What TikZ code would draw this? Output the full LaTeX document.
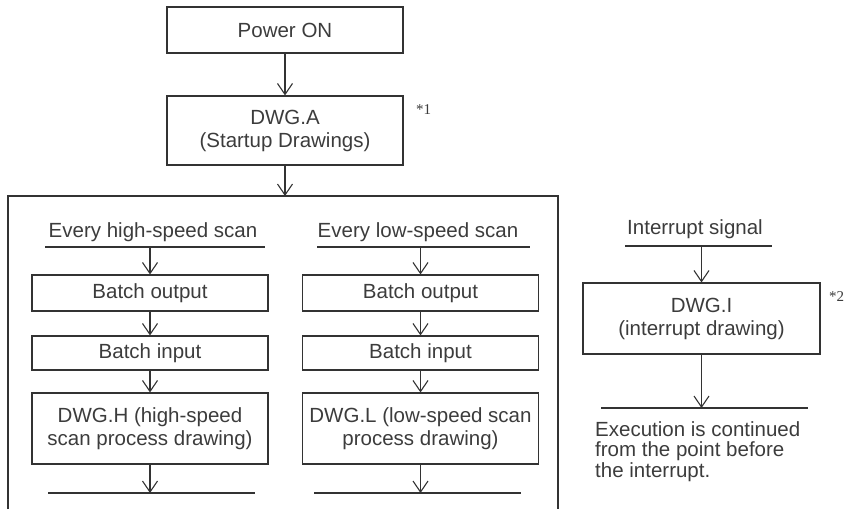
\documentclass[tikz,border=0pt]{standalone}
\usepackage{fontspec}
\setmainfont{Liberation Sans}
\newfontfamily\notefont{Liberation Serif}
\usetikzlibrary{arrows.meta}
\definecolor{ink}{HTML}{333333}
\definecolor{txt}{HTML}{3C3C3C}
\begin{document}
\begin{tikzpicture}[x=1pt,y=-1pt,
  box/.style={draw=ink, line width=1.1pt, minimum width=236pt, align=center,
    font=\fontsize{20.5}{23}\selectfont, text=txt, inner sep=0pt},
  lbl/.style={font=\fontsize{20.5}{23}\selectfont, text=txt, inner sep=0pt},
  note/.style={font=\notefont\fontsize{15}{17}\selectfont, text=txt, inner sep=0pt},
  ln/.style={draw=ink, line width=1.1pt},
  arr/.style={ln, -{Straight Barb[length=11pt,width=15pt,line width=1.1pt]}}]
\useasboundingbox (0,0) rectangle (845,509);
% top
\node[box, minimum height=46pt] (pow) at (285,30) {Power ON};
\node[box, minimum height=69pt] (dwga) at (285,130.5) {DWG.A\\(Startup Drawings)};
\node[note, anchor=west] (n1) at (416,110) {*1};
\draw[arr] (pow.south) -- (dwga.north);
% big frame
\coordinate (f1) at (8,509);
\coordinate (f2) at (8,196);
\coordinate (f3) at (558,196);
\coordinate (f4) at (558,509);
\coordinate (ftop) at (285,196);
\draw[ln] (f1) -- (f2) -- (f3) -- (f4);
\draw[arr] (dwga.south) -- (ftop);
% left column
\node[lbl] (hst) at (153,232) {Every high-speed scan};
\coordinate (hl1) at (45,247);
\coordinate (hl2) at (265,247);
\coordinate (hlm) at (150,247);
\draw[ln] (hl1) -- (hl2);
\node[box, minimum height=36pt] (hbo) at (150,293) {Batch output};
\node[box, minimum height=34pt] (hbi) at (150,353) {Batch input};
\node[box, minimum height=71pt] (hdw) at (150,428.5) {DWG.H (high-speed\\scan process drawing)};
\coordinate (hb1) at (48,493);
\coordinate (hb2) at (255,493);
\coordinate (hbm) at (150,493);
\draw[ln] (hb1) -- (hb2);
\draw[arr] (hlm) -- (hbo.north);
\draw[arr] (hbo.south) -- (hbi.north);
\draw[arr] (hbi.south) -- (hdw.north);
\draw[arr] (hdw.south) -- (hbm);
% right column
\node[lbl] (lst) at (418,232) {Every low-speed scan};
\coordinate (ll1) at (317,247);
\coordinate (ll2) at (530,247);
\coordinate (llm) at (420.5,247);
\draw[ln] (ll1) -- (ll2);
\node[box, minimum height=36pt] (lbo) at (420.5,293) {Batch output};
\node[box, minimum height=34pt] (lbi) at (420.5,353) {Batch input};
\node[box, minimum height=71pt] (ldw) at (420.5,428.5) {DWG.L (low-speed scan\\process drawing)};
\coordinate (lb1) at (314,493);
\coordinate (lb2) at (521,493);
\coordinate (lbm) at (420.5,493);
\draw[ln] (lb1) -- (lb2);
\draw[arr] (llm) -- (lbo.north);
\draw[arr] (lbo.south) -- (lbi.north);
\draw[arr] (lbi.south) -- (ldw.north);
\draw[arr] (ldw.south) -- (lbm);
% interrupt
\node[lbl] (ist) at (695,229) {Interrupt signal};
\coordinate (il1) at (625,246);
\coordinate (il2) at (772,246);
\coordinate (ilm) at (701.5,246);
\draw[ln] (il1) -- (il2);
\node[box, minimum width=237pt, minimum height=71pt] (dwgi) at (701.5,318.5) {DWG.I\\(interrupt drawing)};
\node[note, anchor=west] (n2) at (829,297) {*2};
\coordinate (ib1) at (601,408);
\coordinate (ib2) at (808,408);
\coordinate (ibm) at (701.5,408);
\draw[ln] (ib1) -- (ib2);
\draw[arr] (ilm) -- (dwgi.north);
\draw[arr] (dwgi.south) -- (ibm);
\node[lbl, anchor=north west, align=left, font=\fontsize{20.5}{20.5}\selectfont] (exe) at (595,421)
  {Execution is continued\\from the point before\\the interrupt.};
\end{tikzpicture}
\end{document}
